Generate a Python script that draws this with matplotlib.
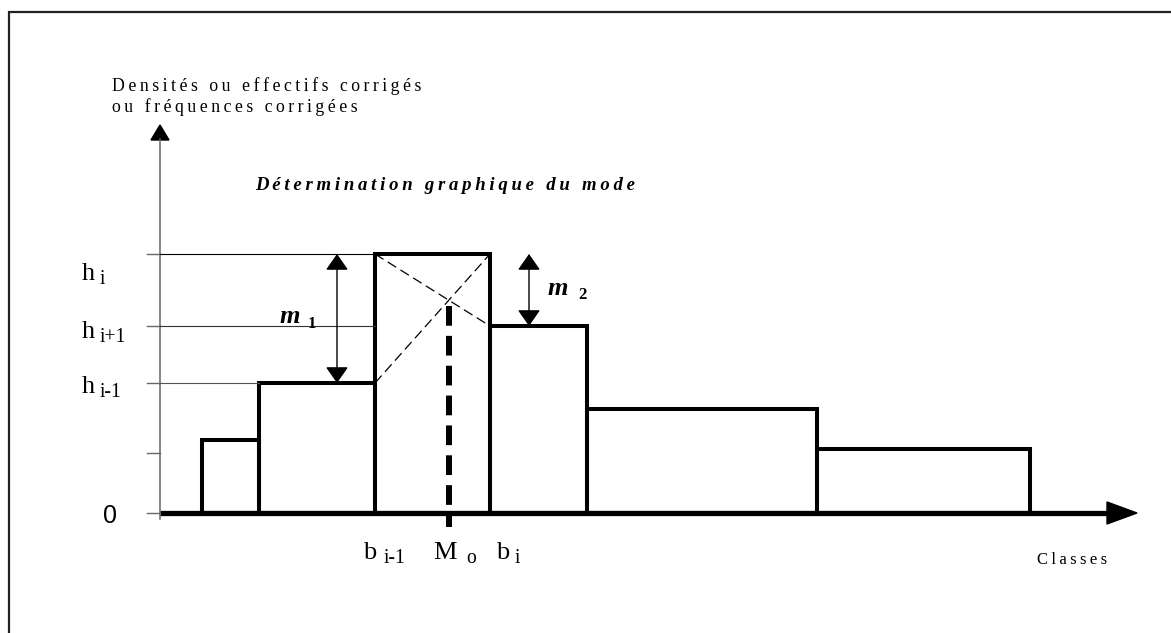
import numpy as np
import matplotlib
matplotlib.use("Agg")
import matplotlib.pyplot as plt
from matplotlib.patches import Polygon

bornes = [4.2, 9.9, 21.5, 33.0, 42.7, 65.7, 87.0]
hauteurs = [7.3, 13.0, 25.9, 18.7, 10.4, 6.4]
graduations = [0, 6.0, 13.0, 18.7, 25.9]
i_modal = 2

SERIF = ["Liberation Serif", "DejaVu Serif"]


def espace(s):
    # lettres espacées comme dans l'original
    return "\u2009".join(s)


def texte_indice(ax, x, y, base, indice, size, gap=3, dy=-3.5, **kw):
    t = ax.text(x, y, base, fontsize=size, va="baseline", family=SERIF, **kw)
    ax.annotate(indice, xy=(1, 0), xycoords=t, xytext=(gap, dy + 0.22 * size),
                textcoords="offset points", fontsize=size * 0.74,
                va="baseline", family=SERIF, **kw)
    return t


fig = plt.figure(figsize=(11.71, 6.33), dpi=100)
ax = fig.add_axes([0, 0, 1, 1])
ax.set_xlim(-16, 101.1)
ax.set_ylim(-12, 51.3)
ax.axis("off")

# cadre
ax.plot([-15.1, -15.1, 101.1], [-12, 50.1, 50.1], color="#222222", lw=1.6,
        clip_on=False, solid_joinstyle="miter")

# histogramme
ax.bar(bornes[:-1], hauteurs, width=np.diff(bornes), align="edge", fill=False,
       edgecolor="black", linewidth=2.9)

# axe des abscisses
ax.plot([0, 94.8], [0, 0], color="black", lw=3.8, solid_capstyle="butt")
ax.add_patch(Polygon([[94.7, 1.1], [97.7, 0], [94.7, -1.1]], closed=True,
                     color="black"))

# axe des ordonnées
ax.plot([0, 0], [-0.6, 37.4], color="#666666", lw=1.1)
ax.add_patch(Polygon([[-0.9, 37.3], [0, 38.8], [0.9, 37.3]], closed=True,
                     color="black"))
for g in graduations:
    ax.plot([-1.3, 0], [g, g], color="#666666", lw=1.0)

# repères horizontaux
h_prec, h_mod, h_suiv = hauteurs[i_modal - 1], hauteurs[i_modal], hauteurs[i_modal + 1]
b_g, b_d = bornes[i_modal], bornes[i_modal + 1]
ax.plot([0, b_g], [h_mod, h_mod], color="black", lw=0.8)
ax.plot([0, b_g], [h_suiv, h_suiv], color="#333333", lw=0.8)
ax.plot([0, bornes[i_modal - 1]], [h_prec, h_prec], color="#555555", lw=0.8)

# diagonales
ax.plot([b_g, b_d], [h_prec, h_mod], color="black", lw=0.9, dashes=(8, 4))
ax.plot([b_g, b_d], [h_mod, h_suiv], color="black", lw=0.9, dashes=(8, 4))

# mode
d1, d2 = h_mod - h_prec, h_mod - h_suiv
mode = b_g + (b_d - b_g) * d1 / (d1 + d2)
y_inter = h_prec + d1 * (mode - b_g) / (b_d - b_g)
ax.plot([mode, mode], [y_inter - 0.6, -1.4], color="black", lw=4.3,
        dashes=(3.3, 1.7), solid_capstyle="butt", dash_capstyle="butt")

# doubles flèches m1 et m2
fl = dict(arrowstyle="<|-|>,head_length=0.4,head_width=0.28", color="black",
          lw=1.0, mutation_scale=25, shrinkA=0, shrinkB=0)
ax.annotate("", xy=(17.7, h_mod), xytext=(17.7, h_prec), arrowprops=fl)
ax.annotate("", xy=(36.9, h_mod), xytext=(36.9, h_suiv), arrowprops=fl)

ax.text(12.0, 19.0, "m", fontsize=19, fontweight="bold", style="italic",
        family=SERIF, va="baseline")
ax.text(14.8, 18.5, "1", fontsize=12, fontweight="bold", family=SERIF,
        va="baseline")
ax.text(38.8, 21.8, "m", fontsize=19, fontweight="bold", style="italic",
        family=SERIF, va="baseline")
ax.text(41.8, 21.4, "2", fontsize=12, fontweight="bold", family=SERIF,
        va="baseline")

# étiquettes de l'axe vertical
texte_indice(ax, -7.8, 23.3, "h", "i", 19)
texte_indice(ax, -7.8, 17.5, "h", "i+1", 19)
texte_indice(ax, -7.8, 12.0, "h", "i-1", 19)
ax.text(-5.0, -0.3, "0", fontsize=18, family=["Liberation Sans", "DejaVu Sans"],
        ha="center", va="center")

# étiquettes de l'axe horizontal
texte_indice(ax, b_g - 1.2, -4.6, "b", "i-1", 19, gap=5)
texte_indice(ax, mode - 1.6, -4.6, "M", "o", 19, gap=7)
texte_indice(ax, b_d + 0.6, -4.6, "b", "i", 19, gap=4)
ax.text(87.7, -5.1, espace("Classes"), fontsize=12, family=SERIF,
        va="baseline")

# titres
ax.text(-4.8, 42.2, espace("Densités ou effectifs corrigés"), fontsize=12.8,
        family=SERIF, va="baseline")
ax.text(-4.8, 40.1, espace("ou fréquences corrigées"), fontsize=12.8,
        family=SERIF, va="baseline")
ax.text(9.5, 32.3, espace("Détermination graphique du mode"), fontsize=13.5,
        fontweight="bold", style="italic", family=SERIF, va="baseline")

fig.savefig("out.png", dpi=100)
